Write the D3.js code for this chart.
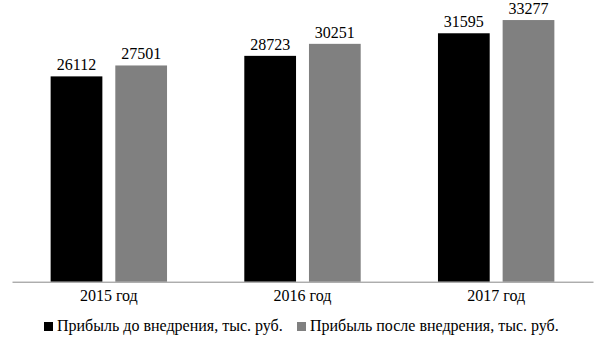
<!DOCTYPE html>
<html><head><meta charset="utf-8">
<script src="https://cdn.jsdelivr.net/npm/d3@7"></script>
<style>body{margin:0;background:#fff}svg{display:block}</style>
</head><body><svg id="c" width="605" height="340"></svg>
<script>
const categories = ["2015 год", "2016 год", "2017 год"];
const seriesNames = ["Прибыль до внедрения, тыс. руб.", "Прибыль после внедрения, тыс. руб."];
const before = [26112, 28723, 31595];
const after = [27501, 30251, 33277];
const colors = ["#000000", "#808080"];

(function(){
const FF = "'Liberation Serif', 'Times New Roman', Times, serif";
const svg = d3.select("#c").style("font-family", FF);
const mLeft = 12, mRight = 593, mTop = 6.5, mBottom = 281.7;
const x0 = d3.scaleBand().domain(categories).range([mLeft, mRight]).paddingInner(0).paddingOuter(0);
const inner = d3.scaleBand().domain([0,1]).range([0, 116.4]).paddingInner(0.2);
const y = d3.scaleLinear().domain([0, 35000]).range([mBottom, mTop]);
const series = [before, after];

const g = svg.append("g");
categories.forEach((c, i) => {
  const cx = x0(c) + x0.bandwidth()/2 - 58.2;
  series.forEach((s, k) => {
    const bx = cx + inner(k);
    g.append("rect").attr("x", bx).attr("y", y(s[i])).attr("width", inner.bandwidth())
      .attr("height", y(0) - y(s[i])).attr("fill", colors[k]);
    g.append("text").attr("x", bx + inner.bandwidth()/2).attr("y", y(s[i]) - 6)
      .attr("text-anchor", "middle").style("font-family", FF).style("font-size", "16px").attr("fill", "#000").text(s[i]);
  });
});

const axis = svg.append("g").attr("transform", `translate(0,${mBottom})`)
  .call(d3.axisBottom(x0).tickSize(0).tickPadding(0));
axis.select(".domain").attr("stroke", "#888").attr("stroke-width", 1);
axis.attr("font-family", null).attr("font-size", null);
axis.selectAll("text").style("font-size", "16px").attr("dy", "1.2em")
  .style("font-family", FF).attr("fill", "#000");

const leg = svg.append("g");
const legX = [44, 297];
seriesNames.forEach((n, k) => {
  leg.append("rect").attr("x", legX[k]).attr("y", 322).attr("width", 9).attr("height", 9).attr("fill", colors[k]);
  leg.append("text").attr("x", legX[k] + 13).attr("y", 331).style("font-family", FF).style("font-size", "16px").attr("fill", "#000").text(n);
});
})();
</script></body></html>
